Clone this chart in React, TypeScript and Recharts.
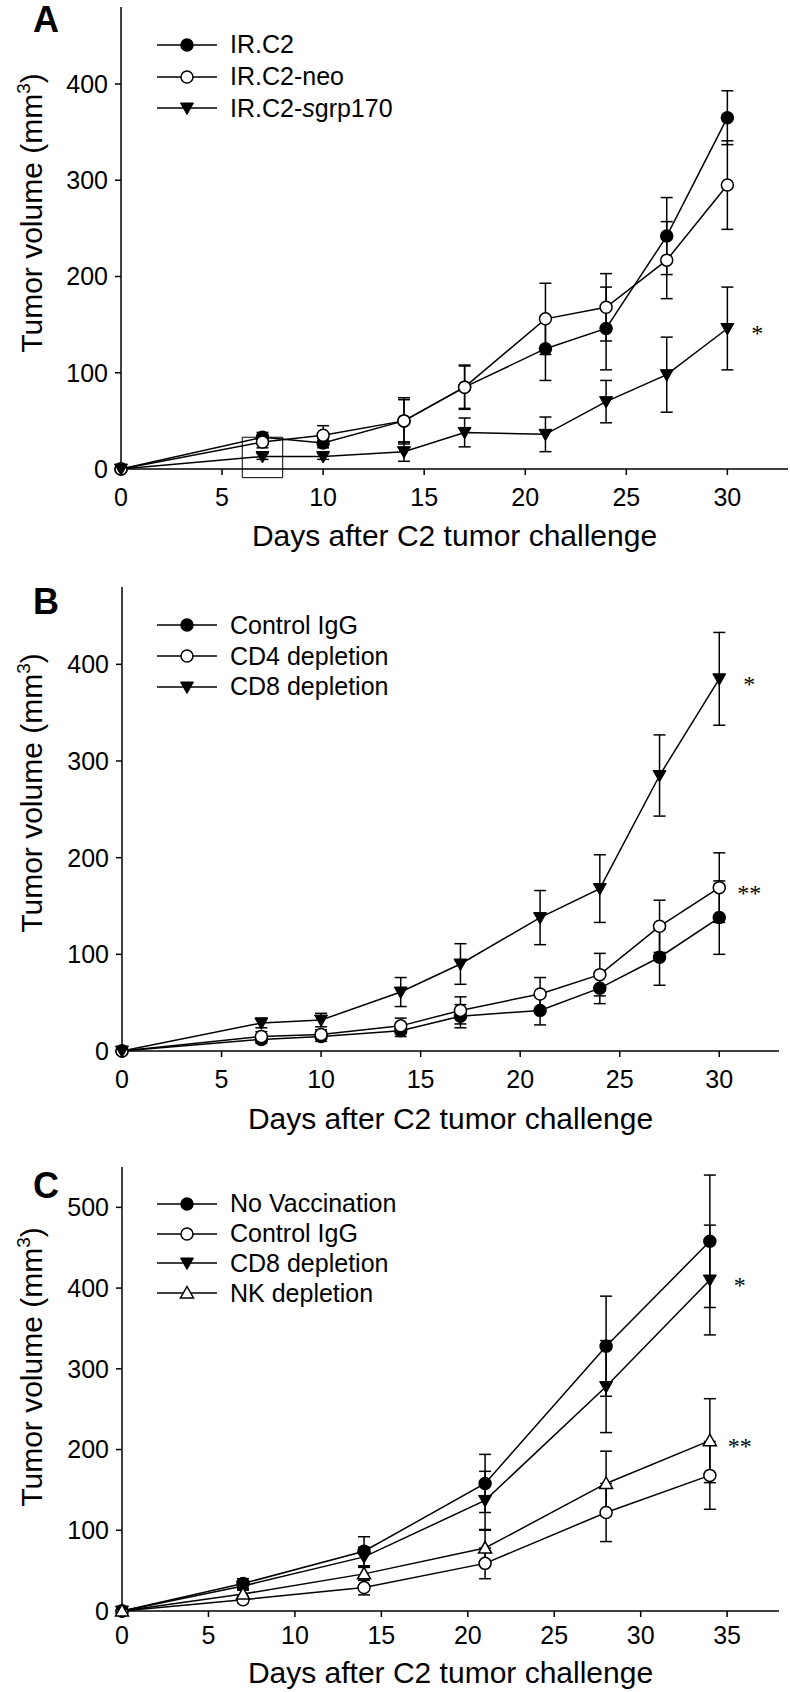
import React from 'react';
import { ErrorBar, Legend, Line, LineChart, ReferenceArea, XAxis, YAxis } from 'recharts';

const FONT = '"Liberation Sans", Arial, Helvetica, sans-serif';
const SERIF = '"Liberation Serif", "Times New Roman", serif';

// Panel A - days and tumor volumes (mm3) with SEM
const daysA = [0, 7, 10, 14, 17, 21, 24, 27, 30];
const irC2 = [0, 33, 27, 50, 85, 125, 146, 242, 365];
const irC2Err = [0, 5, 5, 22, 23, 33, 43, 40, 28];
const irC2Neo = [0, 28, 35, 50, 85, 156, 168, 217, 295];
const irC2NeoErr = [0, 6, 10, 24, 22, 37, 35, 40, 46];
const irC2Sgrp = [0, 13, 13, 18, 38, 36, 70, 98, 146];
const irC2SgrpErr = [0, 3, 3, 10, 15, 18, 22, 39, 43];

// Panel B
const daysB = [0, 7, 10, 14, 17, 21, 24, 27, 30];
const ctrlIgGB = [0, 12, 15, 21, 36, 42, 65, 97, 138];
const ctrlIgGBErr = [0, 4, 5, 6, 12, 15, 16, 29, 38];
const cd4B = [0, 15, 17, 26, 42, 59, 79, 129, 169];
const cd4BErr = [0, 5, 5, 8, 14, 17, 22, 27, 36];
const cd8B = [0, 29, 32, 61, 90, 138, 168, 285, 385];
const cd8BErr = [0, 5, 7, 15, 21, 28, 35, 42, 48];

// Panel C
const daysC = [0, 7, 14, 21, 28, 34];
const noVacC = [0, 34, 74, 158, 328, 458];
const noVacCErr = [0, 6, 18, 36, 62, 82];
const ctrlIgGC = [0, 14, 29, 59, 122, 168];
const ctrlIgGCErr = [0, 4, 9, 19, 36, 42];
const cd8C = [0, 31, 67, 137, 278, 410];
const cd8CErr = [0, 5, 12, 36, 57, 68];
const nkC = [0, 21, 46, 78, 158, 211];
const nkCErr = [0, 5, 8, 22, 40, 52];

const xTicks30 = [0, 5, 10, 15, 20, 25, 30];
const xTicks35 = [0, 5, 10, 15, 20, 25, 30, 35];
const yTicks400 = [0, 100, 200, 300, 400];
const yTicks500 = [0, 100, 200, 300, 400, 500];

type Shape = 'filledCircle' | 'openCircle' | 'filledDown' | 'openUp';

type Series = {
  key: string;
  name: React.ReactNode;
  shape: Shape;
  values: number[];
  errors: number[];
  mark?: string;
};

function Marker({ shape, cx, cy }: { shape: Shape; cx: number; cy: number }) {
  if (shape === 'filledCircle' || shape === 'openCircle') {
    return (
      <circle
        cx={cx}
        cy={cy}
        r={6}
        fill={shape === 'filledCircle' ? '#000' : '#fff'}
        stroke="#000"
        strokeWidth={1.5}
      />
    );
  }
  if (shape === 'filledDown') {
    return (
      <path
        d={`M${cx - 6.5},${cy - 5} L${cx + 6.5},${cy - 5} L${cx},${cy + 6.5} Z`}
        fill="#000"
        stroke="#000"
        strokeWidth={1}
      />
    );
  }
  return (
    <path
      d={`M${cx - 6.5},${cy + 5} L${cx + 6.5},${cy + 5} L${cx},${cy - 6.5} Z`}
      fill="#fff"
      stroke="#000"
      strokeWidth={1.5}
    />
  );
}

function LegendBox({ series, row }: { series: Series[]; row: number }) {
  return (
    <div style={{ fontFamily: FONT, fontSize: 25, color: '#000' }}>
      {series.map((s) => (
        <div key={s.key} style={{ display: 'flex', alignItems: 'center', height: row }}>
          <svg width={60} height={20} style={{ display: 'block' }}>
            <line x1={0} y1={10} x2={60} y2={10} stroke="#000" strokeWidth={1.5} />
            <Marker shape={s.shape} cx={30} cy={10} />
          </svg>
          <span style={{ marginLeft: 13, whiteSpace: 'nowrap', lineHeight: 1 }}>{s.name}</span>
        </div>
      ))}
    </div>
  );
}

function XTitle(props: any) {
  const vb = props.viewBox || {};
  return (
    <text
      x={vb.x + vb.width / 2}
      y={vb.y + (props.offsetY ?? 77)}
      textAnchor="middle"
      fontSize={30}
      fontFamily={FONT}
      fill="#000"
    >
      Days after C2 tumor challenge
    </text>
  );
}

function YTitle(props: any) {
  const vb = props.viewBox || {};
  const cx = vb.x + 42;
  const cy = vb.y + vb.height / 2 + (props.shift ?? 0);
  return (
    <text
      x={cx}
      y={cy}
      transform={`rotate(-90, ${cx}, ${cy})`}
      textAnchor="middle"
      fontSize={30}
      fontFamily={FONT}
      fill="#000"
    >
      Tumor volume (mm
      <tspan dy={-12} fontSize={19}>
        3
      </tspan>
      <tspan dy={12}>)</tspan>
    </text>
  );
}

type PanelProps = {
  letter: string;
  letterTop: number;
  top: number;
  height: number;
  margin: { top: number; right: number; bottom: number };
  yAxisWidth: number;
  xAxisHeight: number;
  xTickMargin: number;
  xTitleOffset: number;
  days: number[];
  series: Series[];
  xDomain: [number, number];
  xTicks: number[];
  yDomain: [number, number];
  yTicks: number[];
  legendTop: number;
  legendRow: number;
  yTitleShift: number;
  extra?: React.ReactNode;
};

const axisStroke = { stroke: '#000', strokeWidth: 1.5 };
const tickStyle = { fill: '#000', fontSize: 25, fontFamily: FONT };

function Panel(p: PanelProps) {
  const data = p.days.map((day, i) => {
    const row: Record<string, number> = { day };
    p.series.forEach((s) => {
      row[s.key] = s.values[i];
      row[`${s.key}Err`] = s.errors[i];
    });
    return row;
  });
  const last = p.days.length - 1;

  return (
    <div style={{ position: 'absolute', left: 0, top: p.top, width: 790, height: p.height }}>
      <div
        style={{
          position: 'absolute',
          left: 33,
          top: p.letterTop,
          fontFamily: FONT,
          fontWeight: 'bold',
          fontSize: 36,
          lineHeight: 1,
          zIndex: 2,
        }}
      >
        {p.letter}
      </div>
      <LineChart
        width={790}
        height={p.height}
        data={data}
        margin={{ top: p.margin.top, right: p.margin.right, bottom: p.margin.bottom, left: 0 }}
      >
        <XAxis
          dataKey="day"
          type="number"
          domain={p.xDomain}
          ticks={p.xTicks}
          interval={0}
          height={p.xAxisHeight}
          axisLine={axisStroke}
          tickLine={axisStroke}
          tickSize={6}
          tickMargin={p.xTickMargin}
          tick={tickStyle}
          label={<XTitle offsetY={p.xTitleOffset} />}
        />
        <XAxis
          xAxisId="top"
          orientation="top"
          type="number"
          domain={p.xDomain}
          height={0}
          tick={false}
          tickLine={false}
          axisLine={axisStroke}
        />
        <YAxis
          type="number"
          domain={p.yDomain}
          ticks={p.yTicks}
          interval={0}
          width={p.yAxisWidth}
          axisLine={axisStroke}
          tickLine={axisStroke}
          tickSize={6}
          tickMargin={7}
          tick={tickStyle}
          label={<YTitle shift={p.yTitleShift} />}
        />
        <YAxis
          yAxisId="right"
          orientation="right"
          type="number"
          domain={p.yDomain}
          width={0}
          tick={false}
          tickLine={false}
          axisLine={axisStroke}
        />
        {p.extra}
        <Legend
          layout="vertical"
          align="center"
          verticalAlign="middle"
          wrapperStyle={{ left: 157, top: p.legendTop, width: 'auto', height: 'auto' }}
          content={() => <LegendBox series={p.series} row={p.legendRow} />}
        />
        {p.series.map((s) => (
          <Line
            key={s.key}
            dataKey={s.key}
            type="linear"
            stroke="#000"
            strokeWidth={1.5}
            isAnimationActive={false}
            activeDot={false}
            dot={(dp: any) => (
              <Marker key={`${s.key}-${dp.index}`} shape={s.shape} cx={dp.cx} cy={dp.cy} />
            )}
            label={
              s.mark
                ? (lp: any) =>
                    lp.index === last ? (
                      <text
                        key={`${s.key}-mark`}
                        x={lp.x + 30}
                        y={lp.y + 13}
                        textAnchor="middle"
                        fontFamily={SERIF}
                        fontSize={24}
                        fill="#000"
                      >
                        {s.mark}
                      </text>
                    ) : null
                : false
            }
          >
            <ErrorBar
              dataKey={`${s.key}Err`}
              direction="y"
              width={6}
              stroke="#000"
              strokeWidth={1.5}
            />
          </Line>
        ))}
      </LineChart>
    </div>
  );
}

const seriesA: Series[] = [
  { key: 'irC2', name: 'IR.C2', shape: 'filledCircle', values: irC2, errors: irC2Err },
  { key: 'irC2Neo', name: 'IR.C2-neo', shape: 'openCircle', values: irC2Neo, errors: irC2NeoErr },
  {
    key: 'irC2Sgrp',
    name: (
      <>
        IR.C2-<i>s</i>grp170
      </>
    ),
    shape: 'filledDown',
    values: irC2Sgrp,
    errors: irC2SgrpErr,
    mark: '*',
  },
];

const seriesB: Series[] = [
  { key: 'ctrl', name: 'Control IgG', shape: 'filledCircle', values: ctrlIgGB, errors: ctrlIgGBErr },
  { key: 'cd4', name: 'CD4 depletion', shape: 'openCircle', values: cd4B, errors: cd4BErr, mark: '**' },
  { key: 'cd8', name: 'CD8 depletion', shape: 'filledDown', values: cd8B, errors: cd8BErr, mark: '*' },
];

const seriesC: Series[] = [
  { key: 'noVac', name: 'No Vaccination', shape: 'filledCircle', values: noVacC, errors: noVacCErr },
  { key: 'ctrl', name: 'Control IgG', shape: 'openCircle', values: ctrlIgGC, errors: ctrlIgGCErr },
  { key: 'cd8', name: 'CD8 depletion', shape: 'filledDown', values: cd8C, errors: cd8CErr, mark: '*' },
  { key: 'nk', name: 'NK depletion', shape: 'openUp', values: nkC, errors: nkCErr, mark: '**' },
];

export default function App() {
  return (
    <div
      style={{
        position: 'absolute',
        left: 0,
        top: 0,
        width: 790,
        height: 1692,
        background: '#fff',
        overflow: 'hidden',
      }}
    >
      <Panel
        letter="A"
        letterTop={2}
        top={0}
        height={560}
        margin={{ top: 7, right: 2, bottom: 6 }}
        yAxisWidth={121}
        xAxisHeight={85}
        xTickMargin={13}
        xTitleOffset={77}
        days={daysA}
        series={seriesA}
        xDomain={[0, 33]}
        xTicks={xTicks30}
        yDomain={[0, 480]}
        yTicks={yTicks400}
        legendTop={29}
        legendRow={31.7}
        yTitleShift={-25}
        extra={
          <ReferenceArea
            x1={6}
            x2={8}
            y1={-9}
            y2={33}
            ifOverflow="visible"
            fill="none"
            stroke="#000"
            strokeWidth={1}
          />
        }
      />
      <Panel
        letter="B"
        letterTop={24}
        top={560}
        height={580}
        margin={{ top: 27, right: 11, bottom: 4 }}
        yAxisWidth={122}
        xAxisHeight={85}
        xTickMargin={13}
        xTitleOffset={78}
        days={daysB}
        series={seriesB}
        xDomain={[0, 33]}
        xTicks={xTicks30}
        yDomain={[0, 480]}
        yTicks={yTicks400}
        legendTop={50}
        legendRow={30.7}
        yTitleShift={-26}
      />
      <Panel
        letter="C"
        letterTop={38}
        top={1130}
        height={562}
        margin={{ top: 37, right: 11, bottom: 1 }}
        yAxisWidth={122}
        xAxisHeight={80}
        xTickMargin={9}
        xTitleOffset={72}
        days={daysC}
        series={seriesC}
        xDomain={[0, 38]}
        xTicks={xTicks35}
        yDomain={[0, 550]}
        yTicks={yTicks500}
        legendTop={59}
        legendRow={29.8}
        yTitleShift={-22}
      />
    </div>
  );
}
